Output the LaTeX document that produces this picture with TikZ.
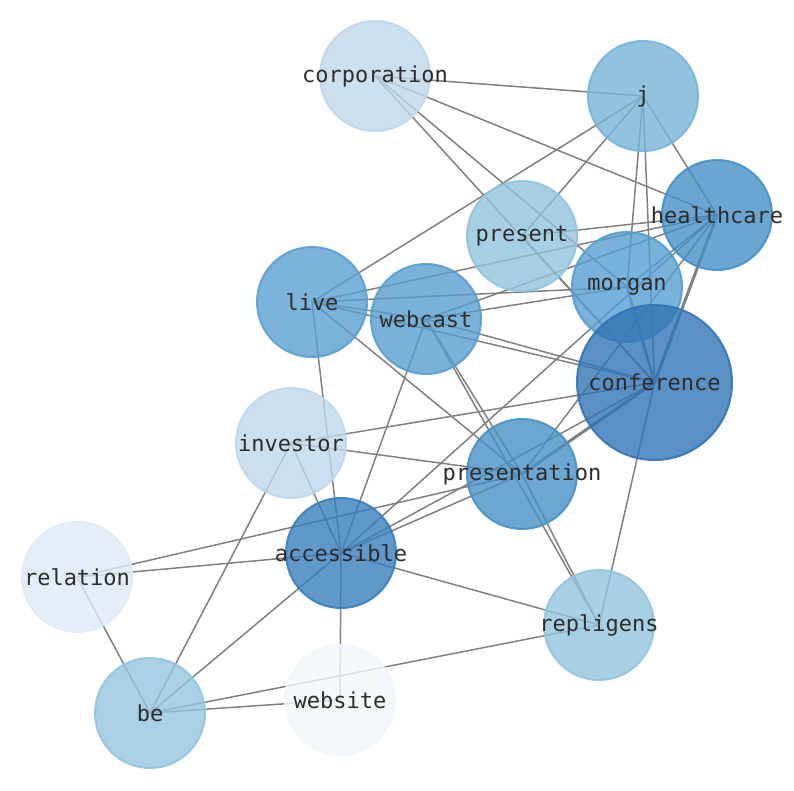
\documentclass[tikz,border=0pt]{standalone}
\usepackage{fontspec}
\newfontfamily\monof{DejaVu Sans Mono}
\pgfdeclarelayer{bg}
\pgfsetlayers{bg,main}
\definecolor{cCorp}{RGB}{190,215,234}
\definecolor{cJ}{RGB}{118,180,216}
\definecolor{cHealth}{RGB}{69,144,197}
\definecolor{cPresent}{RGB}{145,195,221}
\definecolor{cMorgan}{RGB}{86,157,208}
\definecolor{cLive}{RGB}{89,159,208}
\definecolor{cWeb}{RGB}{87,157,206}
\definecolor{cConf}{RGB}{49,116,181}
\definecolor{cInv}{RGB}{190,215,234}
\definecolor{cPres}{RGB}{71,144,197}
\definecolor{cAcc}{RGB}{56,126,189}
\definecolor{cRel}{RGB}{223,234,246}
\definecolor{cRep}{RGB}{146,196,221}
\definecolor{cSite}{RGB}{241,246,252}
\definecolor{cBe}{RGB}{147,196,221}
\definecolor{edgegray}{RGB}{128,128,128}
\definecolor{txt}{RGB}{45,45,45}
\tikzset{
  vtx/.style={circle, inner sep=0pt, minimum size=110pt, fill=#1, fill opacity=0.8, draw=#1, draw opacity=0.9, line width=2pt},
  bigvtx/.style={vtx=#1, minimum size=155pt},
  lbl/.style={font=\monof\fontsize{22}{22}\selectfont, text=txt, inner sep=0pt},
  edge/.style={draw=edgegray, line width=1.5pt},
  thickedge/.style={draw=edgegray, line width=3pt}
}
\begin{document}
\begin{tikzpicture}[x=1pt,y=-1pt]
\useasboundingbox (0,0) rectangle (794,790);
\node[vtx=cCorp, label={[lbl]center:corporation}] (corporation) at (375,76) {};
\node[vtx=cJ, label={[lbl]center:j}] (j) at (643,96) {};
\node[vtx=cHealth, label={[lbl]center:healthcare}] (healthcare) at (717,215) {};
\node[vtx=cPresent, label={[lbl]center:present}] (present) at (522,236) {};
\node[vtx=cMorgan, label={[lbl]center:morgan}] (morgan) at (627,287) {};
\node[vtx=cLive, label={[lbl]center:live}] (live) at (312,302) {};
\node[vtx=cWeb, label={[lbl]center:webcast}] (webcast) at (426,319) {};
\node[bigvtx=cConf, label={[lbl]center:conference}] (conference) at (654.5,382.5) {};
\node[vtx=cInv, label={[lbl]center:investor}] (investor) at (291,443) {};
\node[vtx=cPres, label={[lbl]center:presentation}] (presentation) at (522,474) {};
\node[vtx=cAcc, label={[lbl]center:accessible}] (accessible) at (341,553) {};
\node[vtx=cRel, label={[lbl]center:relation}] (relation) at (77,577) {};
\node[vtx=cRep, label={[lbl]center:repligens}] (repligens) at (599,625) {};
\node[vtx=cSite, label={[lbl]center:website}] (website) at (340,700) {};
\node[vtx=cBe, label={[lbl]center:be}] (be) at (150,713) {};
\begin{pgfonlayer}{bg}
\foreach \a/\b in {corporation/j, corporation/healthcare, corporation/morgan, corporation/conference,
  j/live, j/present, j/morgan, j/conference, j/healthcare,
  healthcare/present, healthcare/live, healthcare/webcast, healthcare/morgan, healthcare/presentation, healthcare/accessible,
  present/conference,
  morgan/live, morgan/webcast,
  live/webcast, live/conference, live/presentation, live/accessible,
  webcast/conference, webcast/accessible, webcast/presentation, webcast/repligens,
  investor/conference, investor/presentation, investor/accessible, investor/be,
  presentation/relation, presentation/accessible, presentation/repligens,
  accessible/conference, accessible/relation, accessible/repligens, accessible/be, accessible/website,
  relation/be, be/website, be/repligens, repligens/conference}
  {\draw[edge] (\a.center) -- (\b.center);}
\draw[thickedge] (healthcare.center) -- (conference.center);
\draw[thickedge] (presentation.center) -- (conference.center);
\draw[edge, line width=2.5pt] (morgan.center) -- (conference.center);
\end{pgfonlayer}
\end{tikzpicture}
\end{document}
